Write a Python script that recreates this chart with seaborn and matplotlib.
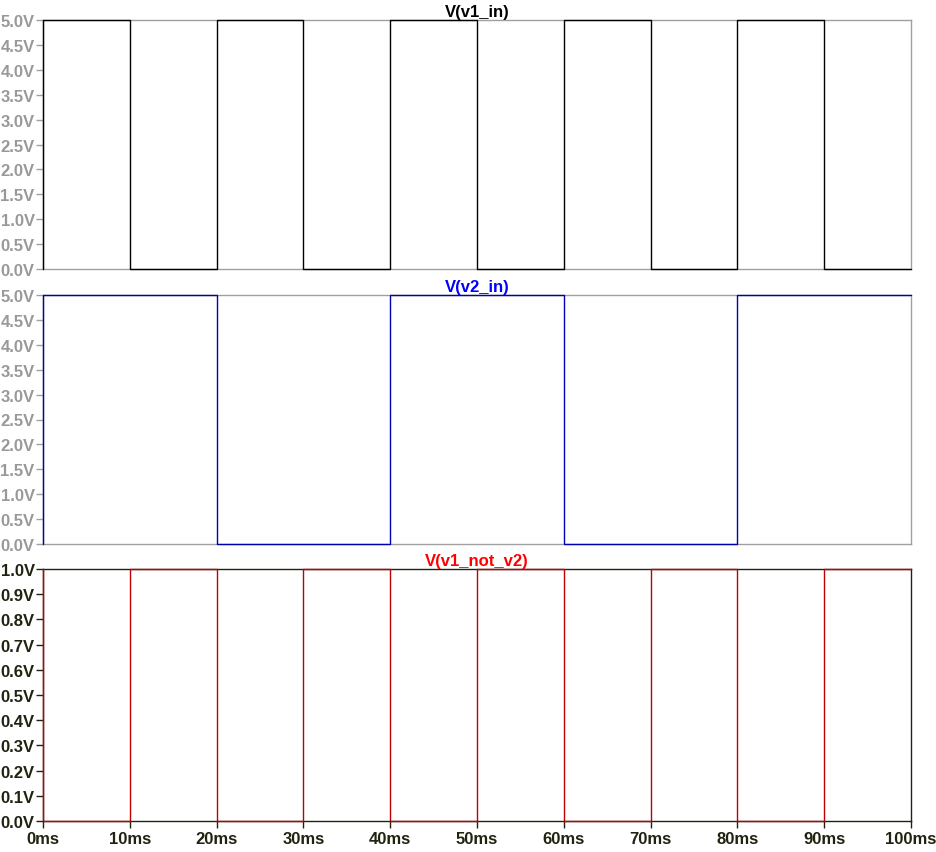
import matplotlib
matplotlib.use("Agg")
import matplotlib.pyplot as plt
import seaborn as sns
import pandas as pd

sns.set_theme(style="white")
plt.rcParams['font.family'] = ['Liberation Sans', 'DejaVu Sans']

# time edges (ms); a leading 0 gives the start-up edge at t=0
time_ms = [0, 0, 10, 20, 30, 40, 50, 60, 70, 80, 90, 100]
v1_in = [0, 5, 0, 5, 0, 5, 0, 5, 0, 5, 0, 0]
v2_in = [0, 5, 5, 0, 0, 5, 5, 0, 0, 5, 5, 5]
v1_not_v2 = [1, 0, 1, 0, 1, 0, 1, 0, 1, 0, 1, 1]

x_ticks = [0, 10, 20, 30, 40, 50, 60, 70, 80, 90, 100]
x_labels = [f"{v}ms" for v in x_ticks]
y_ticks_5 = [0.0, 0.5, 1.0, 1.5, 2.0, 2.5, 3.0, 3.5, 4.0, 4.5, 5.0]
y_ticks_1 = [0.0, 0.1, 0.2, 0.3, 0.4, 0.5, 0.6, 0.7, 0.8, 0.9, 1.0]

panels = [
    ("V(v1_in)", v1_in, "#000000", "#000000", y_ticks_5, 5.0),
    ("V(v2_in)", v2_in, "#0000b0", "#0000ff", y_ticks_5, 5.0),
    ("V(v1_not_v2)", v1_not_v2, "#c00000", "#ff0000", y_ticks_1, 1.0),
]

W, H = 936, 853
fig = plt.figure(figsize=(W / 100, H / 100), dpi=100)
fig.patch.set_facecolor("white")

rects = [(21, 270), (296, 545), (570, 822)]
left_px, right_px = 43, 911

for i, ((title, vals, lc, tc, yt, ymax), (top, bot)) in enumerate(zip(panels, rects)):
    ax = fig.add_axes([left_px / W, 1 - bot / H, (right_px - left_px) / W, (bot - top) / H])
    df = pd.DataFrame({"t": time_ms, "v": vals})
    sns.lineplot(data=df, x="t", y="v", estimator=None, sort=False,
                 drawstyle="steps-post", color=lc, linewidth=1.0, ax=ax,
                 clip_on=False, zorder=4)
    ax.set_xlim(0, 100)
    ax.set_ylim(0, ymax)
    ax.set_xlabel("")
    ax.set_ylabel("")
    last = (i == 2)
    frame_c = "#222211" if last else "#a0a0a0"
    lab_c = "#222211" if last else "#999999"
    for s in ax.spines.values():
        s.set_color(frame_c)
        s.set_linewidth(1.0)
    ax.set_yticks(yt)
    ax.set_yticklabels([f"{v:.1f}V" for v in yt], fontsize=12, fontweight="bold", color=lab_c)
    ax.tick_params(axis="y", direction="out", length=5, width=1, color=frame_c, pad=1, left=True)
    if last:
        ax.set_xticks(x_ticks)
        ax.set_xticklabels(x_labels, fontsize=12, fontweight="bold", color=lab_c)
        ax.tick_params(axis="x", direction="out", length=5, width=1, color=frame_c, pad=2, bottom=True)
    else:
        ax.set_xticks([])
    ax.set_title(title, fontsize=12, fontweight="bold", color=tc, pad=3)
    ax.grid(False)

fig.savefig("out.png", dpi=100, facecolor="white")
